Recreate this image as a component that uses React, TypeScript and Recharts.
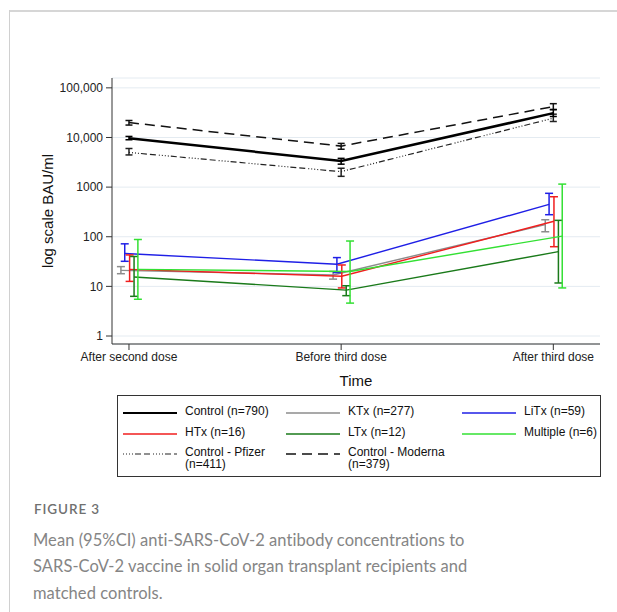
import { LineChart, Line, XAxis, YAxis, CartesianGrid, ErrorBar } from "recharts";

const timepoints = ["After second dose", "Before third dose", "After third dose"];
const yTicks = [1, 10, 100, 1000, 10000, 100000];

// mean and 95% CI per group, one value per timepoint
const controlMean = [9700, 3350, 31000];
const controlLow = [9000, 2900, 26500];
const controlHigh = [10500, 3800, 36500];

const pfizerMean = [5000, 2050, 24500];
const pfizerLow = [4450, 1650, 21000];
const pfizerHigh = [6000, 2400, 29500];

const modernaMean = [20000, 6700, 42000];
const modernaLow = [17800, 5800, 36500];
const modernaHigh = [22000, 7600, 48000];

const ktxMean = [21, 17, 175];
const ktxLow = [18, 14, 126];
const ktxHigh = [25, 20, 220];

const litxMean = [46, 28, 450];
const litxLow = [32, 19, 278];
const litxHigh = [72, 38, 750];

const htxMean = [22, 16, 205];
const htxLow = [12.6, 9.3, 63];
const htxHigh = [43, 27, 640];

const ltxMean = [15.5, 8.4, 50];
const ltxLow = [6.3, 6.5, 11.7];
const ltxHigh = [40, 10.3, 214];

const multipleMean = [22, 20, 103];
const multipleLow = [5.5, 4.6, 9.3];
const multipleHigh = [88, 82, 1150];

const build = (mean: number[], low: number[], high: number[], dodge: number) =>
  timepoints.map((_, i) => ({
    x: i + dodge,
    y: mean[i],
    err: [mean[i] - low[i], high[i] - mean[i]],
  }));

const series = [
  { name: "KTx (n=277)", data: build(ktxMean, ktxLow, ktxHigh, -0.038), color: "#8c8c8c", width: 1.4, dash: undefined, cap: 4 },
  { name: "LiTx (n=59)", data: build(litxMean, litxLow, litxHigh, -0.02), color: "#1f1fe6", width: 1.4, dash: undefined, cap: 4 },
  { name: "HTx (n=16)", data: build(htxMean, htxLow, htxHigh, 0.003), color: "#f01e1e", width: 1.4, dash: undefined, cap: 4 },
  { name: "LTx (n=12)", data: build(ltxMean, ltxLow, ltxHigh, 0.024), color: "#1a7a1a", width: 1.4, dash: undefined, cap: 4 },
  { name: "Multiple (n=6)", data: build(multipleMean, multipleLow, multipleHigh, 0.042), color: "#33e033", width: 1.4, dash: undefined, cap: 4 },
  { name: "Control - Pfizer (n=411)", data: build(pfizerMean, pfizerLow, pfizerHigh, 0), color: "#222", width: 1.2, dash: "1 2 1 2 1 2 1 2 6 3 6 3", cap: 3.5 },
  { name: "Control - Moderna (n=379)", data: build(modernaMean, modernaLow, modernaHigh, 0), color: "#111", width: 1.5, dash: "10 6", cap: 3.5 },
  { name: "Control (n=790)", data: build(controlMean, controlLow, controlHigh, 0), color: "#000", width: 2.5, dash: undefined, cap: 3.5 },
];

const legendRows = [
  ["Control (n=790)", "KTx (n=277)", "LiTx (n=59)"],
  ["HTx (n=16)", "LTx (n=12)", "Multiple (n=6)"],
  ["Control - Pfizer (n=411)", "Control - Moderna (n=379)"],
];

const font = '"Liberation Sans", Arial, sans-serif';

function Sample({ name }: { name: string }) {
  const s = series.find((d) => d.name === name)!;
  return (
    <svg width={54} height={6} style={{ display: "block" }}>
      <line x1={0} y1={3} x2={54} y2={3} stroke={s.color} strokeWidth={Math.min(s.width, 2.2)} strokeDasharray={s.dash} />
    </svg>
  );
}

export default function App() {
  return (
    <div style={{ position: "absolute", left: 0, top: 0, width: 617, height: 612, background: "#fff", fontFamily: font }}>
      <div style={{ position: "absolute", left: 9, top: 10, width: 608, height: 0, borderTop: "2px solid #d6d6d6" }} />
      <div style={{ position: "absolute", left: 9, top: 10, width: 0, height: 602, borderLeft: "1.5px solid #d0d0d0" }} />

      <div style={{ position: "absolute", left: 0, top: 0 }}>
        <LineChart width={617} height={400} margin={{ top: 78, right: 17, bottom: 0, left: 0 }}>
          <CartesianGrid vertical={false} stroke="#e4ebf1" strokeWidth={1} />
          <XAxis
            dataKey="x"
            type="number"
            domain={[-0.08, 2.22]}
            allowDataOverflow
            ticks={[0, 1, 2]}
            tickFormatter={(v: number) => timepoints[Math.round(v)]}
            height={56}
            tickSize={6}
            stroke="#333"
            tick={{ fill: "#222", fontSize: 12, fontFamily: font }}
            label={{ value: "Time", position: "insideBottom", offset: 14, fill: "#111", fontSize: 15, fontFamily: font }}
          />
          <YAxis
            type="number"
            scale="log"
            domain={[0.69, 158000]}
            allowDataOverflow
            ticks={yTicks}
            tickFormatter={(v: number) => (v >= 10000 ? v.toLocaleString("en-US") : String(v))}
            width={112}
            tickSize={6}
            tickMargin={3}
            stroke="#333"
            tick={{ fill: "#222", fontSize: 12, fontFamily: font }}
          />
          {series.map((s) => (
            <Line
              key={s.name}
              data={s.data}
              dataKey="y"
              stroke={s.color}
              strokeWidth={s.width}
              strokeDasharray={s.dash}
              dot={false}
              activeDot={false}
              isAnimationActive={false}
            >
              <ErrorBar dataKey="err" direction="y" width={s.cap} stroke={s.color} strokeWidth={1.5} isAnimationActive={false} />
            </Line>
          ))}
        </LineChart>
      </div>

      <div
        style={{
          position: "absolute",
          left: 47,
          top: 211,
          transform: "translate(-50%, -50%) rotate(-90deg)",
          whiteSpace: "nowrap",
          fontSize: 15,
          color: "#111",
        }}
      >
        log scale BAU/ml
      </div>

      <div
        style={{
          position: "absolute",
          left: 117,
          top: 395,
          width: 482,
          height: 80,
          border: "1px solid #333",
          fontSize: 12,
          color: "#111",
        }}
      >
        {legendRows.map((row, r) =>
          row.map((name, c) => {
            const label = name.includes("Control -") ? name.replace(" (n=", "\n(n=") : name;
            return (
              <div
                key={name}
                style={{
                  position: "absolute",
                  left: [5, 168, 344][c],
                  top: [10, 31, 51][r],
                  display: "flex",
                  alignItems: "flex-start",
                }}
              >
                <div style={{ paddingTop: 4 }}>
                  <Sample name={name} />
                </div>
                <div style={{ marginLeft: 8, whiteSpace: "pre", lineHeight: "11.5px" }}>{label}</div>
              </div>
            );
          })
        )}
      </div>

      <div style={{ position: "absolute", left: 34, top: 501, fontFamily: "Lato, sans-serif", fontSize: 13.5, fontWeight: 600, color: "#707070", letterSpacing: 0.9 }}>
        FIGURE 3
      </div>
      <div style={{ position: "absolute", left: 33, top: 527, fontFamily: "Lato, sans-serif", fontSize: 16.5, lineHeight: "26.3px", color: "#858585", letterSpacing: 0.05 }}>
        <div>Mean (95%CI) anti-SARS-CoV-2 antibody concentrations to</div>
        <div>SARS-CoV-2 vaccine in solid organ transplant recipients and</div>
        <div>matched controls.</div>
      </div>
    </div>
  );
}
